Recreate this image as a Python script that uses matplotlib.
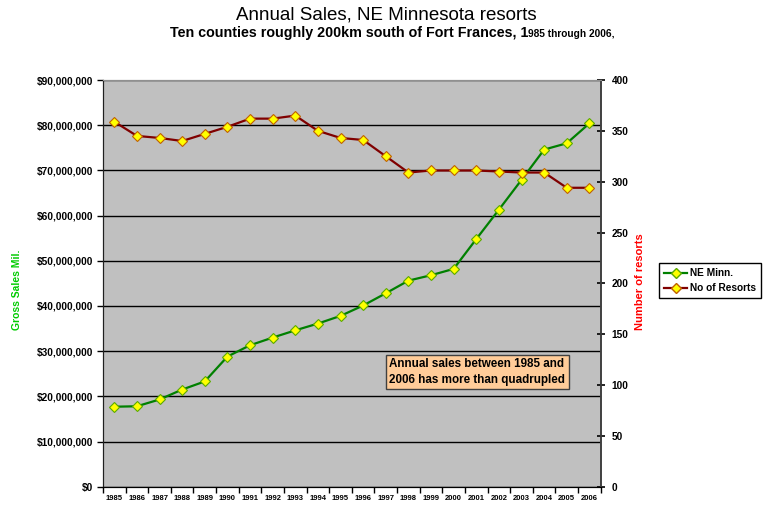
import numpy as np
import matplotlib
matplotlib.use("Agg")
import matplotlib.pyplot as plt
from matplotlib.ticker import FuncFormatter, FixedLocator
from matplotlib.lines import Line2D
from matplotlib.offsetbox import TextArea, HPacker, AnchoredOffsetbox

# -------------------------
# Data
# -------------------------
years = [str(y) for y in range(1985, 2007)]
sales_mil = [17.7, 17.8, 19.3, 21.5, 23.3, 28.8, 31.3, 33.0, 34.6, 36.1, 37.8,
             40.1, 42.8, 45.6, 46.8, 48.2, 54.8, 61.3, 67.9, 74.6, 76.0, 80.4]
resorts = [359, 345, 343, 340, 347, 354, 362, 362, 365, 350, 343,
           341, 325, 309, 311, 311, 311, 310, 309, 309, 294, 294]

plt.rcParams["font.family"] = ["Liberation Sans", "DejaVu Sans"]

GREEN = "#008000"
RED = "#800000"
YELLOW = "#FFFF00"

# -------------------------
# Figure / axes
# -------------------------
W, H = 767, 508
fig = plt.figure(figsize=(W / 100, H / 100), dpi=100)
fig.patch.set_facecolor("white")

left, right, top, bottom = 103, 600.7, 80, 486.7
ax = fig.add_axes([left / W, 1 - bottom / H, (right - left) / W, (bottom - top) / H])
ax.set_facecolor("#C0C0C0")
ax2 = ax.twinx()

x = np.arange(len(years))
sales = np.array(sales_mil) * 1e6

ax.plot(x, sales, color=GREEN, lw=1.6, marker="D", ms=5.5,
        mfc=YELLOW, mec="#5AAA00", mew=0.8, zorder=3)
ax2.plot(x, resorts, color=RED, lw=1.6, marker="D", ms=5.5,
         mfc=YELLOW, mec="#C06000", mew=0.8, zorder=3)

# -------------------------
# Axes styling
# -------------------------
ax.set_xlim(-0.5, len(years) - 0.5)
ax.set_ylim(0, 90e6)
ax2.set_ylim(0, 400)

ax.set_yticks(np.arange(0, 90e6 + 1, 10e6))
ax.yaxis.set_major_formatter(FuncFormatter(lambda v, p: "$0" if v == 0 else "${:,.0f}".format(v)))
ax2.set_yticks(np.arange(0, 401, 50))

ax.xaxis.set_major_locator(FixedLocator(np.arange(-0.5, len(years), 1.0)))
ax.xaxis.set_minor_locator(FixedLocator(x))
ax.set_xticklabels([], minor=False)
ax.set_xticklabels(years, minor=True)
ax.tick_params(axis="x", which="major", length=4, width=1, direction="out")
ax.tick_params(axis="x", which="minor", length=0, pad=6, labelsize=5.5)
for lbl in ax.get_xticklabels(minor=True):
    lbl.set_fontweight("bold")

ax.tick_params(axis="y", length=4, width=1, direction="out", labelsize=7.3, pad=3)
ax2.tick_params(axis="y", length=6, width=1.2, direction="inout", labelsize=7.3, pad=5)
for lbl in ax.get_yticklabels() + ax2.get_yticklabels():
    lbl.set_fontweight("bold")

ax.yaxis.grid(True, color="black", lw=1)
ax.set_axisbelow(True)

for a in (ax, ax2):
    a.spines["top"].set_color("#909090")
    a.spines["left"].set_color("#202020")
    a.spines["right"].set_color("#404040")
    a.spines["bottom"].set_color("black")
    a.spines["right"].set_linewidth(1.2)

# axis titles
fig.text(17 / W, 1 - 290 / H, "Gross Sales Mil.", rotation=90, color="#00CC00",
         fontsize=7.5, fontweight="bold", ha="center", va="center")
fig.text(640 / W, 1 - 282 / H, "Number of resorts", rotation=90, color="#FF0000",
         fontsize=8, fontweight="bold", ha="center", va="center")

# -------------------------
# Titles
# -------------------------
fig.text(386 / W, 1 - 15 / H, "Annual Sales, NE Minnesota resorts",
         fontsize=13.5, ha="center", va="center")
sub = HPacker(children=[
    TextArea("Ten counties roughly 200km south of Fort Frances, 1",
             textprops=dict(fontsize=10.3, fontweight="bold")),
    TextArea("985 through 2006,", textprops=dict(fontsize=7.3, fontweight="bold")),
], align="baseline", pad=0, sep=0)
fig.add_artist(AnchoredOffsetbox(loc="center", child=sub, frameon=False,
                                 bbox_to_anchor=(392 / W, 1 - 33 / H),
                                 bbox_transform=fig.transFigure, pad=0, borderpad=0))

# -------------------------
# Annotation box
# -------------------------
ax.text(0.575, 0.282, "Annual sales between 1985 and\n2006 has more than quadrupled",
        transform=ax.transAxes, fontsize=8.4, fontweight="bold", ha="left", va="center",
        linespacing=1.4,
        bbox=dict(boxstyle="square,pad=0.3", fc="#FFCC99", ec="#404040", lw=1))

# -------------------------
# Legend
# -------------------------
handles = [
    Line2D([], [], color=GREEN, lw=1.6, marker="D", ms=5.5, mfc=YELLOW, mec="#5AAA00"),
    Line2D([], [], color=RED, lw=1.6, marker="D", ms=5.5, mfc=YELLOW, mec="#C06000"),
]
leg = fig.legend(handles, ["NE Minn.", "No of Resorts"], loc="upper left",
                 bbox_to_anchor=(657 / W, 1 - 261 / H), fancybox=False,
                 edgecolor="black", framealpha=1, handlelength=2.3,
                 handletextpad=0.25, borderpad=0.5, borderaxespad=0.2,
                 labelspacing=0.5, prop=dict(weight="bold", size=7.3))
leg.get_frame().set_linewidth(1)

fig.savefig("out.png", dpi=100)
